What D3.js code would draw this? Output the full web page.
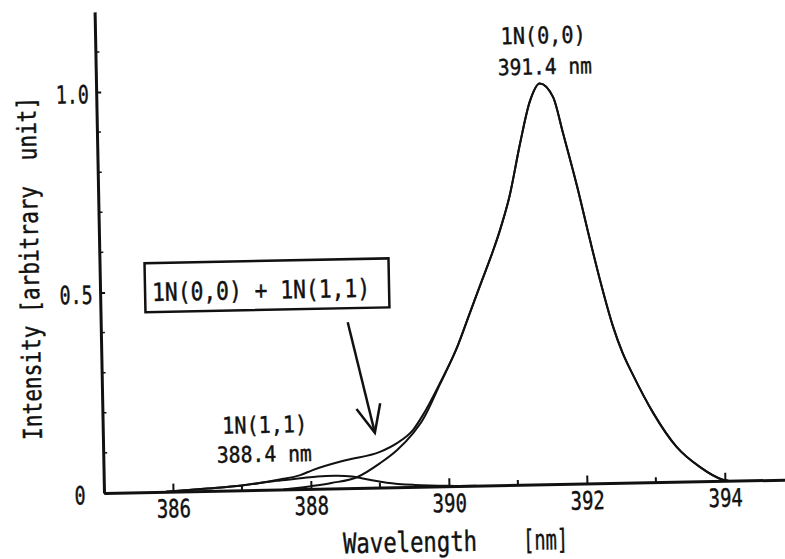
<!DOCTYPE html>
<html>
<head>
<meta charset="utf-8">
<script src="https://cdn.jsdelivr.net/npm/d3@7"></script>
<style>
  html, body { margin: 0; padding: 0; background: #fff; }
  svg { display: block; }
  text { font-family: "DejaVu Sans Mono", "Liberation Mono", monospace; fill: #111; stroke: #111; stroke-width: 0.45px; }
</style>
</head>
<body>
<svg id="chart" width="785" height="559"></svg>
<script>
// ---- Spectrum data: wavelength [nm] and normalised intensity ----
// 1N(0,0) band, peak at 391.4 nm
const wlN00  = [387.6, 388.0, 388.3, 388.67, 389.01, 389.26, 389.5, 389.64, 389.9, 390.16, 390.35, 390.51,
                390.71, 390.81, 390.96, 391.13, 391.28, 391.43, 391.62, 391.75, 391.94, 392.11, 392.25,
                392.42, 392.55, 392.7, 392.98, 393.31, 393.64, 393.97, 394.05];
const valN00 = [0, 0.007, 0.014, 0.027, 0.061, 0.093, 0.135, 0.167, 0.255, 0.347, 0.43, 0.50,
                0.587, 0.635, 0.72, 0.853, 0.955, 1.0, 0.965, 0.877, 0.743, 0.61, 0.505,
                0.392, 0.326, 0.268, 0.173, 0.087, 0.036, 0.003, 0];

// 1N(1,1) band, peak at 388.4 nm
const wlN11  = [385.9, 386.5, 387.0, 387.5, 387.85, 388.1, 388.35, 388.6, 388.85, 389.1, 389.5, 390.0, 390.4];
const valN11 = [0, 0.006, 0.012, 0.022, 0.027, 0.031, 0.032, 0.029, 0.02, 0.012, 0.005, 0.001, 0];

// Sum 1N(0,0) + 1N(1,1)
const wlSum  = [385.9, 386.5, 387.0, 387.55, 387.85, 388.03, 388.51, 389.01, 389.26, 389.5, 389.64, 389.9,
                390.16, 390.35, 390.51, 390.71, 390.81, 390.96, 391.13, 391.28, 391.43, 391.62, 391.75,
                391.94, 392.11, 392.25, 392.42, 392.55, 392.7, 392.98, 393.31, 393.64, 393.97, 394.05];
const valSum = [0, 0.006, 0.012, 0.025, 0.035, 0.047, 0.07, 0.089, 0.11, 0.143, 0.178, 0.258,
                0.347, 0.43, 0.50, 0.587, 0.635, 0.72, 0.853, 0.955, 1.0, 0.965, 0.877,
                0.743, 0.61, 0.505, 0.392, 0.326, 0.268, 0.173, 0.087, 0.036, 0.003, 0];

// ---- Axis ticks ----
const xTickValues  = [386, 388, 390, 392, 394];
const xTickLabels  = ["386", "388", "390", "392", "394"];
const xMinorTicks  = [387, 389, 391, 393];
const yTickValues  = [0, 0.5, 1.0];
const yTickLabels  = ["0", "0.5", "1.0"];
const yMinorTicks  = [0.1, 0.2, 0.3, 0.4, 0.6, 0.7, 0.8, 0.9, 1.1];

// ---- Layout ----
const ox = 104, oy = 493;
const ink = "#111";
const svg = d3.select("#chart");

const x = d3.scaleLinear().domain([385, 395]).range([ox, ox + 690]);
const y = d3.scaleLinear().domain([0, 1.2]).range([oy, oy - 1.2 * 401]);

// whole plot sits slightly tilted on the page
const g = svg.append("g").attr("transform", `rotate(-1.12 ${ox} ${oy})`);

// squeeze glyphs to a narrow half-width look
function narrow(sel, width) {
  sel.attr("textLength", width).attr("lengthAdjust", "spacingAndGlyphs");
  return sel;
}

// ---- Axes ----
const xAxis = d3.axisBottom(x)
  .tickValues(xTickValues)
  .tickFormat((d, i) => xTickLabels[i])
  .tickSize(-8).tickSizeOuter(0).tickPadding(8);
const gx = g.append("g").attr("transform", `translate(0,${oy})`).call(xAxis);
gx.select(".domain").attr("stroke", ink).attr("stroke-width", 3);
gx.selectAll(".tick line").attr("stroke", ink).attr("stroke-width", 2);
gx.selectAll(".tick text")
  .attr("fill", ink).attr("font-size", 25).attr("font-family", null)
  .each(function () { narrow(d3.select(this), this.textContent.length * 11.4); });

gx.selectAll(".minor").data(xMinorTicks).enter().append("line")
  .attr("class", "minor")
  .attr("x1", d => x(d)).attr("x2", d => x(d))
  .attr("y1", 0).attr("y2", -5)
  .attr("stroke", ink).attr("stroke-width", 2);

const yAxis = d3.axisLeft(y)
  .tickValues(yTickValues)
  .tickFormat((d, i) => yTickLabels[i])
  .tickSize(-5).tickSizeOuter(0);
const gy = g.append("g").attr("transform", `translate(${ox},0)`).call(yAxis);
gy.select(".domain").attr("stroke", ink).attr("stroke-width", 3);
gy.selectAll(".tick line").attr("stroke", ink).attr("stroke-width", 2);
gy.selectAll(".tick text")
  .attr("fill", ink).attr("font-size", 25).attr("font-family", null)
  .attr("x", -24).attr("text-anchor", "middle").attr("dy", "0.42em")
  .each(function () { narrow(d3.select(this), this.textContent.length * 11.0); });

gy.selectAll(".minor").data(yMinorTicks).enter().append("line")
  .attr("class", "minor")
  .attr("x1", 0).attr("x2", 4)
  .attr("y1", d => y(d)).attr("y2", d => y(d))
  .attr("stroke", ink).attr("stroke-width", 1.5);

// ---- Curves ----
const line = d3.line()
  .x(d => x(d[0])).y(d => y(d[1]))
  .curve(d3.curveMonotoneX);

const series = [
  d3.zip(wlN11, valN11),
  d3.zip(wlN00, valN00),
  d3.zip(wlSum, valSum)
];
g.selectAll(".spectrum").data(series).enter().append("path")
  .attr("class", "spectrum")
  .attr("d", line)
  .attr("fill", "none")
  .attr("stroke", ink)
  .attr("stroke-width", 2)
  .attr("stroke-linejoin", "round");

// ---- Axis titles ----
narrow(g.append("text")
  .attr("transform", "translate(43,267) rotate(-90)")
  .attr("text-anchor", "middle")
  .attr("font-size", 26)
  .style("white-space", "pre")
  .text("Intensity [arbitrary  unit]"), 343);

narrow(g.append("text")
  .attr("x", 342).attr("y", 558)
  .attr("font-size", 28)
  .text("Wavelength"), 134);
narrow(g.append("text")
  .attr("x", 522).attr("y", 558)
  .attr("font-size", 28)
  .text("[nm]"), 45);

// ---- Peak annotations ----
narrow(g.append("text").attr("x", 552).attr("y", 52).attr("text-anchor", "middle")
  .attr("font-size", 23).text("1N(0,0)"), 85);
narrow(g.append("text").attr("x", 553).attr("y", 83).attr("text-anchor", "middle")
  .attr("font-size", 22).text("391.4 nm"), 94);

narrow(g.append("text").attr("x", 266).attr("y", 436).attr("text-anchor", "middle")
  .attr("font-size", 23).text("1N(1,1)"), 85);
narrow(g.append("text").attr("x", 265).attr("y", 465).attr("text-anchor", "middle")
  .attr("font-size", 22).text("388.4 nm"), 95);

// ---- Boxed label for the summed profile, with arrow ----
g.append("rect")
  .attr("x", 149).attr("y", 264).attr("width", 244).attr("height", 49)
  .attr("fill", "#fff").attr("stroke", ink).attr("stroke-width", 2.5);
narrow(g.append("text").attr("x", 265).attr("y", 302).attr("text-anchor", "middle")
  .attr("font-size", 25).text("1N(0,0) + 1N(1,1)"), 218);

const a0 = [351, 327], a1 = [376, 438];
const ang = Math.atan2(a0[1] - a1[1], a0[0] - a1[0]);
const head = 30, spread = 24 * Math.PI / 180;
g.append("line")
  .attr("x1", a0[0]).attr("y1", a0[1]).attr("x2", a1[0]).attr("y2", a1[1])
  .attr("stroke", ink).attr("stroke-width", 2.5);
g.append("polyline")
  .attr("points", [
    [a1[0] + head * Math.cos(ang - spread), a1[1] + head * Math.sin(ang - spread)],
    a1,
    [a1[0] + head * Math.cos(ang + spread), a1[1] + head * Math.sin(ang + spread)]
  ].map(p => p.join(",")).join(" "))
  .attr("fill", "none").attr("stroke", ink).attr("stroke-width", 2.5)
  .attr("stroke-linejoin", "miter");
</script>
</body>
</html>
